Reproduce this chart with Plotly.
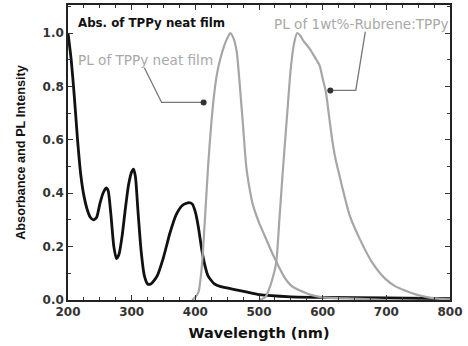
import plotly.graph_objects as go

# Absorption of TPPy neat film
abs_wl = [200, 205, 210, 215, 220, 225, 230, 235, 240, 245, 250, 255, 260, 263, 267, 272, 276, 280, 285, 290, 295, 300, 303, 306, 310, 315, 320, 325, 330, 340, 350, 360, 370, 380, 390, 395, 400, 405, 410, 415, 420, 430, 440, 460, 480, 500, 550, 600, 700, 800]
abs_val = [1.0, 0.9, 0.76, 0.6, 0.47, 0.39, 0.34, 0.31, 0.30, 0.31, 0.36, 0.40, 0.42, 0.41, 0.33, 0.2, 0.155, 0.17, 0.24, 0.34, 0.43, 0.48, 0.49, 0.46, 0.33, 0.18, 0.09, 0.06, 0.06, 0.09, 0.16, 0.25, 0.32, 0.355, 0.365, 0.36, 0.33, 0.27, 0.19, 0.13, 0.09, 0.06, 0.05, 0.04, 0.03, 0.02, 0.012, 0.01, 0.008, 0.005]

# PL of TPPy neat film
pl1_wl = [395, 400, 405, 410, 415, 420, 425, 430, 435, 440, 445, 450, 455, 460, 465, 470, 475, 480, 485, 490, 500, 510, 520, 530, 540, 550, 560, 570, 580, 600, 650, 700]
pl1_val = [0.0, 0.01, 0.03, 0.12, 0.3, 0.5, 0.66, 0.78, 0.86, 0.91, 0.95, 0.98, 1.0, 0.98, 0.93, 0.8, 0.65, 0.5, 0.42, 0.36, 0.29, 0.235, 0.18, 0.13, 0.085, 0.055, 0.04, 0.03, 0.02, 0.01, 0.005, 0.0]

# PL of 1wt%-Rubrene:TPPy
pl2_wl = [500, 510, 515, 520, 527, 532, 537, 545, 550, 555, 560, 565, 570, 580, 590, 595, 600, 605, 610, 615, 620, 625, 630, 642, 658, 678, 698, 715, 730, 745, 756, 770, 785, 800]
pl2_val = [0.0, 0.01, 0.035, 0.07, 0.14, 0.3, 0.47, 0.72, 0.87, 0.96, 1.0, 0.99, 0.97, 0.94, 0.9, 0.88, 0.83, 0.78, 0.69, 0.6, 0.53, 0.48, 0.43, 0.32, 0.23, 0.14, 0.08, 0.05, 0.035, 0.022, 0.015, 0.008, 0.004, 0.002]

# Label pointer paths (data coordinates)
ptr1_wl = [320, 347, 413]
ptr1_val = [0.87, 0.74, 0.74]
ptr2_wl = [667, 652, 612]
ptr2_val = [1.005, 0.785, 0.785]

x_ticks = [200, 300, 400, 500, 600, 700, 800]
y_ticks = [0.0, 0.2, 0.4, 0.6, 0.8, 1.0]

GRAY = "#a6a6a6"
WIDE = "DejaVu Sans"

fig = go.Figure()
fig.add_trace(go.Scatter(x=abs_wl, y=abs_val, mode="lines", line=dict(color="#111111", width=2.8, shape="spline", smoothing=0.6)))
fig.add_trace(go.Scatter(x=pl1_wl, y=pl1_val, mode="lines", line=dict(color=GRAY, width=2.2, shape="spline", smoothing=0.6)))
fig.add_trace(go.Scatter(x=pl2_wl, y=pl2_val, mode="lines", line=dict(color=GRAY, width=2.2, shape="spline", smoothing=0.6)))

for xs, ys in [(ptr1_wl, ptr1_val), (ptr2_wl, ptr2_val)]:
    fig.add_trace(go.Scatter(x=xs, y=ys, mode="lines", line=dict(color="#777777", width=1.3)))
    fig.add_trace(go.Scatter(x=[xs[-1]], y=[ys[-1]], mode="markers",
                             marker=dict(color="#333333", size=6, symbol="circle")))

fig.add_annotation(x=0.022, y=0.94, xref="paper", yref="paper", text="<b>Abs. of TPPy neat film</b>",
                   showarrow=False, xanchor="left", yanchor="middle",
                   font=dict(family=WIDE, size=11.8, color="#111111"))
fig.add_annotation(x=0.02, y=0.815, xref="paper", yref="paper", text="PL of TPPy neat film",
                   showarrow=False, xanchor="left", yanchor="middle",
                   font=dict(family=WIDE, size=13.6, color="#a8a8a8"))
fig.add_annotation(x=1.0, y=0.935, xref="paper", yref="paper", text="PL of 1wt%-Rubrene:TPPy",
                   showarrow=False, xanchor="right", yanchor="middle",
                   font=dict(family=WIDE, size=13.6, color="#a8a8a8"))

axis_common = dict(showline=True, linecolor="#222222", linewidth=1.5, mirror="ticks",
                   ticks="inside", ticklen=5, tickwidth=1.2, tickcolor="#333333",
                   showgrid=False, zeroline=False,
                   tickfont=dict(family=WIDE, size=12, color="#333333", weight="bold"))

fig.update_xaxes(range=[200, 800], tickvals=x_ticks, ticktext=[str(v) for v in x_ticks],
                 minor=dict(ticks="inside", ticklen=3, tickcolor="#333333", dtick=25, tick0=200),
                 title=dict(text="<b>Wavelength (nm)</b>", standoff=10,
                            font=dict(family=WIDE, size=14.5, color="#111111")),
                 **axis_common)
fig.update_yaxes(range=[0, 1.105], tickvals=y_ticks, ticktext=[f"{v:.1f}" for v in y_ticks],
                 minor=dict(ticks="inside", ticklen=3, tickcolor="#333333", dtick=0.1, tick0=0),
                 title=dict(text="<b>Absorbance and PL Intensity</b>", standoff=14,
                            font=dict(family="Liberation Sans, Arial", size=12.7, color="#111111")),
                 **axis_common)

fig.update_layout(width=468, height=346, margin=dict(l=68, r=18, t=3, b=46),
                  paper_bgcolor="white", plot_bgcolor="white", showlegend=False)

fig.write_html("out.html")
